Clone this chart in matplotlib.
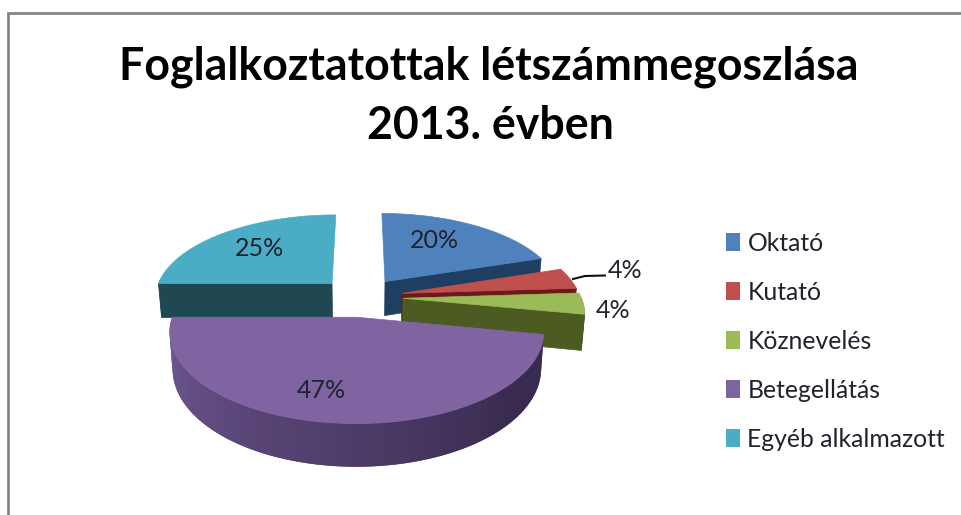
"""
plot.py - exploded 3D-style pie of staff distribution
"""
import numpy as np
import matplotlib
matplotlib.use("Agg")
import matplotlib.pyplot as plt
from matplotlib.patches import Polygon, Patch

# data
categories = ['Oktató', 'Kutató', 'Köznevelés', 'Betegellátás', 'Egyéb alkalmazott']
shares = [20, 4, 4, 47, 25]
top_colors = ['#4f81bd', '#c0504d', '#9bbb59', '#8064a2', '#4bacc6']
side_colors = ['#1e3f61', '#6a1a18', '#4c5b22', '#5a4578', '#1f4853']
title_lines = ['Foglalkoztatottak létszámmegoszlása', '2013. évben']

# pie geometry, in pixels of the canvas
CX, CY = 361, 297
RX, RY = 178, 83
PERSP = 0.154
EXPLODE = 0.236
DEPTH = 35
BASE_SHRINK = 0.985


def project(u, v, lower=False):
    w = 1 - PERSP * v
    x = RX * u / w
    y = CY + RY * v / w
    if lower:
        return CX + x * BASE_SHRINK, y + DEPTH / w
    return CX + x, y


def rim_color(theta):
    # the outer wall gets lighter towards the left of the pie
    t = np.clip((theta - 130) / (265 - 130), 0, 1)
    dark = np.array([0x39, 0x2b, 0x4f]) / 255
    light = np.array([0x70, 0x59, 0x94]) / 255
    return tuple(dark + (light - dark) * t)


fig = plt.figure(figsize=(9.61, 5.15), dpi=100)
ax = fig.add_axes([0, 0, 1, 1])
ax.set_xlim(0, 961)
ax.set_ylim(515, 0)
ax.axis('off')

# chart border, only left and top fall on the picture
ax.plot([8, 8, 961], [515, 13, 13], color='#868686', lw=2, solid_joinstyle='miter')

edges = np.cumsum([0] + shares) / sum(shares) * 360
draw_order = [4, 0, 1, 2, 3]

for i in draw_order:
    start, end = edges[i], edges[i + 1]
    mid = np.radians((start + end) / 2)
    du, dv = EXPLODE * np.sin(mid), -EXPLODE * np.cos(mid)
    thetas = np.linspace(start, end, 80)
    us = np.sin(np.radians(thetas)) + du
    vs = -np.cos(np.radians(thetas)) + dv

    # flat cut faces that look towards the viewer
    for edge, visible in ((start, np.sin(np.radians(start)) < -1e-6),
                          (end, np.sin(np.radians(end)) > 1e-6)):
        if not visible:
            continue
        eu, ev = np.sin(np.radians(edge)) + du, -np.cos(np.radians(edge)) + dv
        face = [project(du, dv), project(eu, ev),
                project(eu, ev, True), project(du, dv, True)]
        ax.add_patch(Polygon(face, closed=True, fc=side_colors[i], ec=side_colors[i], lw=0.5))

    # outer wall, each quad overlaps the next one so no seams show
    for k in range(len(thetas) - 1):
        if np.cos(np.radians(thetas[k])) > 0.02:
            continue
        n = min(k + 2, len(thetas) - 1)
        quad = [project(us[k], vs[k]), project(us[n], vs[n]),
                project(us[n], vs[n], True), project(us[k], vs[k], True)]
        col = rim_color(thetas[k]) if i == 3 else side_colors[i]
        ax.add_patch(Polygon(quad, closed=True, fc=col, ec='none'))

    # top surface
    outline = [project(du, dv)] + [project(a, b) for a, b in zip(us, vs)]
    ax.add_patch(Polygon(outline, closed=True, fc=top_colors[i], ec=top_colors[i], lw=0.5))

# percentage labels
label_xy = [(434, 241), (625, 270), (613, 310), (321, 390), (259, 248)]
for share, (x, y) in zip(shares, label_xy):
    ax.text(x, y, f'{share}%', ha='center', va='center', family='Lato',
            fontsize=18, color='#20222e')
ax.plot([573, 585, 605], [279, 276, 275.5], color='#111111', lw=1.5)

# title
ax.text(489, 67, title_lines[0], ha='center', va='center', family='Lato',
        weight='bold', fontsize=32.1, color='black')
ax.text(490, 126, title_lines[1], ha='center', va='center', family='Lato',
        weight='bold', fontsize=32.1, color='black')

# legend
handles = [Patch(fc=c, ec='none') for c in top_colors]
ax.legend(handles, categories, loc='upper left', bbox_to_anchor=(716 / 961, 1 - 222 / 515),
          frameon=False, prop={'family': 'Lato', 'size': 17.8}, labelcolor='#20222e',
          handlelength=0.57, handleheight=0.75, handletextpad=0.3, labelspacing=1.05,
          borderpad=0.4, borderaxespad=0)

fig.savefig('out.png', dpi=100)
